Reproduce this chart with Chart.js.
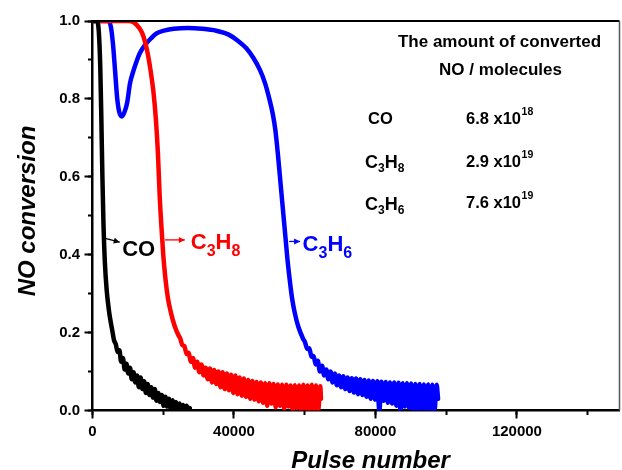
<!DOCTYPE html>
<html><head><meta charset="utf-8">
<script src="https://cdn.jsdelivr.net/npm/chart.js@4.4.1/dist/chart.umd.min.js"></script>
<style>html,body{margin:0;padding:0;background:#fff;}#wrap{width:622px;height:470px;}</style>
</head><body>
<div id="wrap"><canvas id="c" width="622" height="470"></canvas></div>
<script>
// ---------- data ----------
const coPulse = [0,1200,1800,2200,2500,2800,3100,3500,4000,4600,5000,
  5600,6100,6600,7100,7600,8100,8600,9100,9600,10100,10600,11100,11600,12100,12600,13100,13600,14100,14600,15100,
  15600,16100,16600,17100,17600,18100,18600,19100,19600,20100,20600,21100,21600,22100,22600,23100,23600,24100,24600,
  25100,25600,26100,26600,27100,27500];
const coConv = [1.0,1.0,0.97,0.88,0.75,0.6,0.48,0.38,0.31,0.26,0.235,
  0.205,0.18,0.17,0.15,0.155,0.125,0.135,0.105,0.12,0.095,0.11,0.08,0.098,0.072,0.09,0.06,0.085,0.055,0.075,0.045,
  0.068,0.04,0.06,0.033,0.055,0.025,0.045,0.022,0.04,0.012,0.035,0.01,0.03,0.004,0.026,0.0,0.022,0.0,0.018,
  0.0,0.014,0.0,0.012,0.0,0.006];

const c3h8Pulse = [0,10500,12500,14000,15300,16300,17200,17900,18500,19000,19500,20000,20600,21300,22200,23300,24200,
  24800,25400,26000,26600,27200,27800,28400,29000,29600,30200,30800,31400,32000,32600,33200,33800,34400,35000,35600,36200,
  36800,37400,38000,38600,39200,39800,40400,41000,41600,42200,42800,43400,44000,44600,45200,45800,46400,47000,47600,48200,
  48800,49400,50000,50600,51200,51800,52400,53000,53600,54200,54800,55400,56000,56600,57200,57800,58400,59000,59600,60200,
  60800,61400,62000,62600,63200,63800,64400,64600];
const c3h8Conv = [1.0,1.0,0.99,0.97,0.93,0.88,0.82,0.75,0.66,0.55,0.47,0.40,0.34,0.29,0.25,0.215,0.195,
  0.185,0.168,0.165,0.145,0.148,0.125,0.135,0.11,0.125,0.098,0.118,0.09,0.11,0.08,0.108,0.072,0.104,0.068,0.1,0.06,
  0.098,0.055,0.095,0.052,0.092,0.045,0.09,0.042,0.085,0.038,0.082,0.035,0.078,0.03,0.076,0.028,0.073,0.024,0.072,0.02,
  0.07,0.012,0.07,0.018,0.068,0.008,0.067,0.012,0.066,0.005,0.066,0.01,0.064,0.0,0.065,0.006,0.064,0.0,0.066,0.004,
  0.064,0.0,0.066,0.003,0.064,0.0,0.062,0.03];

const c3h6Pulse = [0,4500,5200,5800,6400,7000,7600,8300,9000,9800,10600,11500,12400,13400,15000,16500,18100,20500,23000,27000,
  31000,35000,38500,41000,43500,45500,47300,48800,50000,51000,51700,52500,53200,53900,54500,55100,55700,56400,57200,58200,59500,
  60100,60700,61300,61900,62500,63100,63700,64300,64900,65500,66100,66700,67300,67900,68500,69100,69700,70300,70900,71500,
  72100,72700,73300,73900,74500,75100,75700,76300,76900,77500,78100,78700,79300,79900,80500,81100,81700,82300,82900,83500,
  84100,84700,85300,85900,86500,87100,87700,88300,88900,89500,90100,90700,91300,91900,92500,93100,93700,94300,94900,95500,
  96100,96700,97300,97700];
const c3h6Conv = [1.0,1.0,0.985,0.94,0.87,0.80,0.765,0.755,0.765,0.79,0.84,0.87,0.895,0.918,0.94,0.955,0.968,0.976,0.98,0.982,
  0.98,0.975,0.965,0.95,0.93,0.905,0.875,0.84,0.80,0.76,0.72,0.65,0.58,0.51,0.45,0.39,0.34,0.29,0.25,0.215,0.185,
  0.175,0.158,0.16,0.138,0.14,0.118,0.128,0.10,0.115,0.09,0.105,0.08,0.10,0.072,0.095,0.065,0.09,0.06,0.088,0.055,
  0.085,0.05,0.083,0.046,0.082,0.042,0.08,0.04,0.078,0.035,0.077,0.03,0.076,0.028,0.075,0.0,0.074,0.025,0.073,0.02,
  0.072,0.018,0.072,0.012,0.071,0.0,0.07,0.01,0.07,0.006,0.069,0.004,0.068,0.0,0.068,0.005,0.067,0.0,0.067,0.003,
  0.066,0.0,0.066,0.03];

const xMin = 0, xMax = 149000, yMin = 0, yMax = 1.0;
const xMajorTicks = [0, 40000, 80000, 120000];
const xMinorTicks = [0, 20000, 40000, 60000, 80000, 100000, 120000, 140000];
const yMajorTicks = [0, 0.2, 0.4, 0.6, 0.8, 1.0];
const yMinorTicks = [0, 0.1, 0.2, 0.3, 0.4, 0.5, 0.6, 0.7, 0.8, 0.9, 1.0];
const xTitle = 'Pulse number', yTitle = 'NO conversion';

const amountSpecies = [[['CO','n']], [['C','n'],['3','s'],['H','n'],['8','s']], [['C','n'],['3','s'],['H','n'],['6','s']]];
const amountMantissa = ['6.8 x10', '2.9 x10', '7.6 x10'];
const amountExponent = ['18', '19', '19'];
const tableTitle = ['The amount of converted', 'NO / molecules'];

// ---------- styling ----------
const FONT = "'Liberation Sans', Arial, Helvetica, sans-serif";
Chart.defaults.font.family = FONT;
Chart.defaults.color = '#000';

function zip(xs, ys){ return xs.map((v,i)=>({x:v, y:ys[i]})); }
const setTicks = vals => s => { s.ticks = vals.map(v => ({value: v})); };

const curveLabels = [
  {parts:[['CO','n']], color:'#000', from:[3600,0.442], to:[7700,0.432], dx:2.5, dy:14},
  {parts:[['C','n'],['3','s'],['H','n'],['8','s']], color:'#ff0000', from:[20500,0.438], to:[26100,0.438], dx:6, dy:9.5},
  {parts:[['C','n'],['3','s'],['H','n'],['6','s']], color:'#0000ff', from:[55600,0.434], to:[58700,0.434], dx:2.5, dy:10}
];

function drawChem(ctx, parts, x, base, big, small, shift){
  let cx = x;
  for (const [t, k] of parts){
    if (k === 's'){ ctx.font = `bold ${small}px ${FONT}`; ctx.fillText(t, cx, base + shift); }
    else { ctx.font = `bold ${big}px ${FONT}`; ctx.fillText(t, cx, base); }
    cx += ctx.measureText(t).width;
  }
  return cx;
}

const annoPlugin = {
  id:'anno',
  afterDatasetsDraw(chart){
    const {ctx, chartArea:a, scales} = chart;
    const sx = scales.x, sy = scales.y;
    ctx.save();
    ctx.strokeStyle = '#000'; ctx.lineWidth = 2;
    ctx.beginPath(); ctx.moveTo(a.left, a.top); ctx.lineTo(a.right, a.top); ctx.stroke();
    ctx.strokeStyle = '#555'; ctx.lineWidth = 1.5;
    ctx.beginPath(); ctx.moveTo(a.right, a.top); ctx.lineTo(a.right, a.bottom); ctx.stroke();

    // axis titles
    ctx.fillStyle = '#000';
    ctx.font = `italic bold 24px ${FONT}`;
    ctx.textAlign = 'center'; ctx.textBaseline = 'alphabetic';
    ctx.fillText(xTitle, a.left + 278, 468);
    ctx.save();
    ctx.translate(a.left - 64, a.top + 190);
    ctx.rotate(-Math.PI/2);
    ctx.textBaseline = 'middle';
    ctx.fillText(yTitle, 0, 0);
    ctx.restore();

    ctx.textBaseline = 'alphabetic'; ctx.textAlign = 'left';
    for (const L of curveLabels){
      const x1 = sx.getPixelForValue(L.from[0]), y1 = sy.getPixelForValue(L.from[1]);
      const x2 = sx.getPixelForValue(L.to[0]), y2 = sy.getPixelForValue(L.to[1]);
      ctx.strokeStyle = L.color; ctx.fillStyle = L.color; ctx.lineWidth = 1.3;
      ctx.beginPath(); ctx.moveTo(x1,y1); ctx.lineTo(x2,y2); ctx.stroke();
      const ang = Math.atan2(y2-y1, x2-x1), hl = 6, hw = 3;
      ctx.beginPath();
      ctx.moveTo(x2,y2);
      ctx.lineTo(x2 - hl*Math.cos(ang) + hw*Math.sin(ang), y2 - hl*Math.sin(ang) - hw*Math.cos(ang));
      ctx.lineTo(x2 - hl*Math.cos(ang) - hw*Math.sin(ang), y2 - hl*Math.sin(ang) + hw*Math.cos(ang));
      ctx.closePath(); ctx.fill();
      drawChem(ctx, L.parts, x2 + L.dx, y2 + L.dy, 22, 16, 7);
    }

    ctx.fillStyle = '#000';
    ctx.textAlign = 'center';
    ctx.font = `bold 17px ${FONT}`;
    const tcx = a.right - 120;
    ctx.fillText(tableTitle[0], tcx, a.top + 26);
    ctx.fillText(tableTitle[1], tcx + 1, a.top + 54);
    ctx.textAlign = 'left';
    const rowBase = [a.top + 103, a.top + 145.5, a.top + 187];
    for (let i = 0; i < amountSpecies.length; i++){
      const b = rowBase[i];
      if (amountSpecies[i].length === 1) drawChem(ctx, amountSpecies[i], a.left + 275.5, b, 16.5, 11, 4);
      else drawChem(ctx, amountSpecies[i], a.left + 272.5, b + 1.5, 18, 12, 4);
      ctx.font = `bold 16.5px ${FONT}`;
      ctx.fillText(amountMantissa[i], a.left + 373.5, b);
      const w = ctx.measureText(amountMantissa[i]).width;
      ctx.font = `bold 10.5px ${FONT}`;
      ctx.fillText(amountExponent[i], a.left + 373.5 + w + 0.5, b - 9);
    }
    ctx.restore();
  }
};

const tickFont = {family: FONT, size: 15, weight: 'bold'};

new Chart(document.getElementById('c'), {
  type: 'scatter',
  data: {
    datasets: [
      {label:'CO', data: zip(coPulse, coConv), borderColor:'#000000'},
      {label:'C3H8', data: zip(c3h8Pulse, c3h8Conv), borderColor:'#ff0000'},
      {label:'C3H6', data: zip(c3h6Pulse, c3h6Conv), borderColor:'#0000ff'}
    ].map(d => Object.assign(d, {showLine:true, pointRadius:0, borderWidth:4.5, fill:false,
        cubicInterpolationMode:'monotone', borderJoinStyle:'round', borderCapStyle:'round', xAxisID:'x', yAxisID:'y'}))
  },
  options: {
    responsive:false, animation:false, events:[],
    layout:{padding:{top:21, right:2.5, left:0, bottom:0}},
    plugins:{legend:{display:false}, tooltip:{enabled:false}},
    scales:{
      x:{type:'linear', position:'bottom', weight:1, min:xMin, max:xMax,
        afterBuildTicks: setTicks(xMajorTicks),
        ticks:{autoSkip:false, maxRotation:0, padding:4, font:tickFont, color:'#000', callback:v=>String(v)},
        grid:{drawOnChartArea:false, drawTicks:true, tickLength:8, tickWidth:2, tickColor:'#000'},
        border:{display:true, color:'#000', width:2.5},
        title:{display:false},
        afterFit:s=>{s.height = 59.5;}
      },
      x2:{type:'linear', position:'bottom', weight:0, min:xMin, max:xMax,
        afterBuildTicks: setTicks(xMinorTicks),
        ticks:{display:false},
        grid:{drawOnChartArea:false, drawTicks:true, tickLength:4.5, tickWidth:2, tickColor:'#000'},
        border:{display:false},
        afterFit:s=>{s.height = 0;}
      },
      y:{type:'linear', position:'left', weight:1, min:yMin, max:yMax,
        afterBuildTicks: setTicks(yMajorTicks),
        ticks:{padding:4.5, font:tickFont, color:'#000', callback:v=>v.toFixed(1)},
        grid:{drawOnChartArea:false, drawTicks:true, tickLength:8, tickWidth:2, tickColor:'#000'},
        border:{display:true, color:'#000', width:2.5},
        title:{display:false},
        afterFit:s=>{s.width = 92.5;}
      },
      y2:{type:'linear', position:'left', weight:0, min:yMin, max:yMax,
        afterBuildTicks: setTicks(yMinorTicks),
        ticks:{display:false},
        grid:{drawOnChartArea:false, drawTicks:true, tickLength:4.5, tickWidth:2, tickColor:'#000'},
        border:{display:false},
        afterFit:s=>{s.width = 0;}
      }
    }
  },
  plugins:[annoPlugin]
});
</script></body></html>
